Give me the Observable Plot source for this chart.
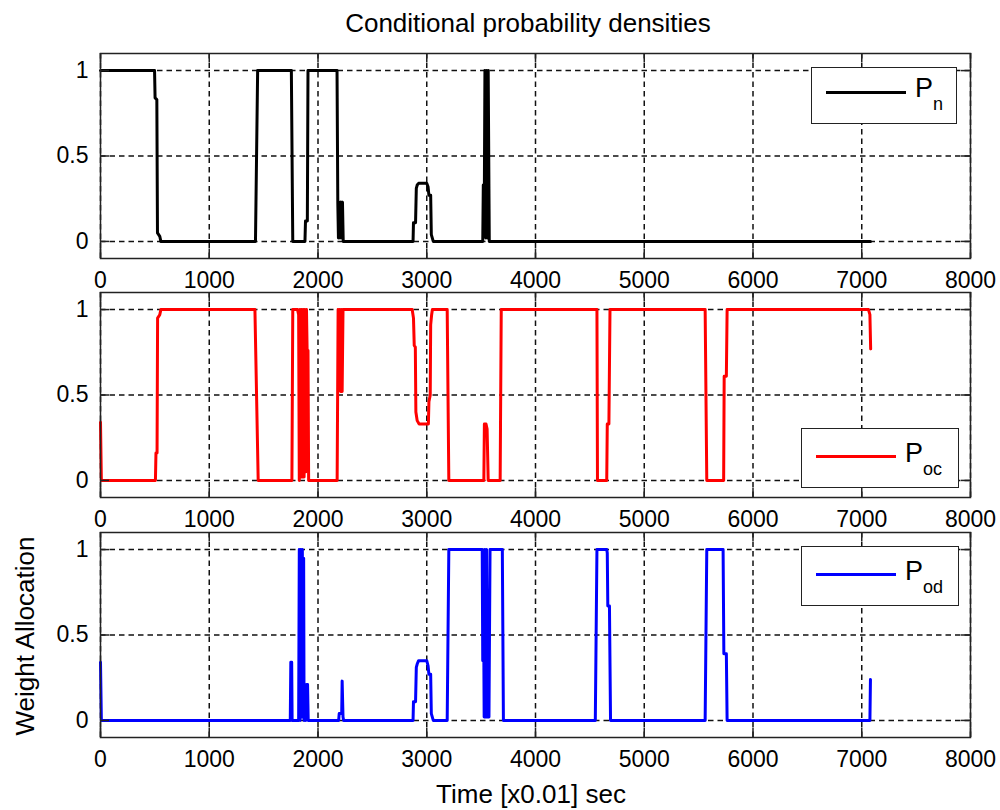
<!DOCTYPE html>
<html>
<head>
<meta charset="utf-8">
<script src="https://cdn.jsdelivr.net/npm/d3@7"></script>
<script src="https://cdn.jsdelivr.net/npm/@observablehq/plot@0.6"></script>
<style>
  html, body { margin: 0; padding: 0; background: #fff; }
  #root { position: relative; width: 1000px; height: 810px; background: #fff; font-family: "Liberation Sans", Arial, sans-serif; color: #000; overflow: hidden; }
  .abs { position: absolute; }
  .txt { white-space: nowrap; line-height: 1; }
  .legend { position: absolute; border: 1.5px solid #222; background: #fff; box-sizing: border-box; }
  .legend .ln { position: absolute; height: 3px; }
  .legend .p { position: absolute; font-size: 27px; line-height: 27px; }
  .legend .sub { position: absolute; font-size: 18px; line-height: 18px; }
</style>
</head>
<body>
<div id="root"></div>
<script>
// ---- data ----
const xTicks = [0, 1000, 2000, 3000, 4000, 5000, 6000, 7000, 8000];
const yTicks = [0, 0.5, 1];
const seriesNames = ["P", "P", "P"];
const seriesSubs = ["n", "oc", "od"];
const seriesColors = ["#000000", "#ff0000", "#0000ff"];

const Pn = [
  [0,1],[497,1],[502,0.84],[518,0.83],[524,0.05],[545,0.03],[555,0],
  [1425,0],[1445,1],[1755,1],[1768,0],[1880,0],[1885,0.12],[1902,0.12],[1908,1],
  [2175,1],[2182,0.23],[2188,0.02],[2195,0.23],[2202,0.02],[2210,0.23],[2218,0.02],[2225,0.23],[2232,0],
  [2874,0],[2878,0.11],[2897,0.11],[2904,0.31],[2912,0.33],[2925,0.34],[3000,0.34],[3012,0.32],[3020,0.27],[3036,0.27],[3042,0.04],[3060,0],
  [3515,0],[3520,0.33],[3530,0.33],[3535,1],[3543,0.02],[3550,1],[3558,0.02],[3565,1],[3575,0],
  [7080,0]
];

const Poc = [
  [0,0.34],[8,0],[505,0],[510,0.16],[520,0.16],[525,0.95],[545,0.97],[555,1],
  [1420,1],[1450,0],[1760,0],[1768,1],[1812,1],[1822,0.97],[1828,0],[1835,1],[1842,0.02],[1850,1],[1857,0.02],[1864,1],[1872,0.02],[1880,1],[1887,0.05],[1894,1],[1900,0.76],[1908,0.76],[1914,0],
  [2176,0],[2185,1],[2192,0.55],[2200,1],[2208,0.52],[2215,1],[2222,0.52],[2230,1],
  [2866,1],[2878,0.95],[2885,0.79],[2895,0.78],[2900,0.4],[2912,0.35],[2930,0.33],[3015,0.33],[3020,0.46],[3032,0.5],[3036,0.91],[3045,0.97],[3052,1],
  [3188,1],[3203,0],[3525,0],[3530,0.33],[3545,0.33],[3555,0.3],[3565,0],[3675,0],[3685,1],
  [4565,1],[4570,0],[4655,0],[4660,0.33],[4675,0.33],[4685,1],
  [5560,1],[5575,0],[5730,0],[5735,0.61],[5755,0.61],[5762,1],
  [7062,1],[7075,0.97],[7082,0.77]
];

const Pod = [
  [0,0.34],[8,0],[1745,0],[1750,0.34],[1758,0.34],[1762,0],
  [1822,0],[1828,1],[1835,0],[1842,1],[1849,0.02],[1856,1],[1863,0.02],[1868,0.95],[1872,0],[1880,0.12],[1886,0],[1896,0.21],[1904,0.21],[1910,0],
  [2190,0],[2195,0.04],[2218,0.04],[2222,0.23],[2230,0.02],[2236,0],
  [2874,0],[2878,0.11],[2897,0.11],[2904,0.31],[2912,0.33],[2925,0.35],[3000,0.35],[3012,0.32],[3020,0.27],[3036,0.27],[3042,0.04],[3060,0],
  [3188,0],[3203,1],[3510,1],[3515,0.35],[3520,0.98],[3528,0.02],[3535,1],[3542,0.02],[3550,1],[3558,0.02],[3565,0.6],[3572,0.02],[3582,1],[3600,1],[3695,1],[3705,0],
  [4550,0],[4565,1],[4655,1],[4660,0.98],[4665,0.67],[4680,0.67],[4690,0],
  [5560,0],[5575,1],[5725,1],[5732,0.39],[5755,0.39],[5762,0],
  [7075,0],[7080,0.24]
];

const titleText = "Conditional probability densities";
const xLabelText = "Time [x0.01] sec";
const yLabelText = "Weight Allocation";

// ---- layout ----
const root = document.getElementById("root");
const panelTops = [43, 282, 522];
const legendBoxes = [
  {left: 811, top: 67, w: 146, h: 57, lineY: 26, pBase: 31, subBase: 43},
  {left: 801, top: 428, w: 158, h: 60, lineY: 29, pBase: 35, subBase: 47},
  {left: 801, top: 546, w: 158, h: 60, lineY: 29, pBase: 35, subBase: 47}
];
const xDomain = [0, 8000], yDomain = [-0.1, 1.1];
const mL = 100, mR = 30, mT = 10, mB = 40, areaH = 205;
const xTickLen = 9 * (xDomain[1] - xDomain[0]) / (1000 - mL - mR);
const yTickLen = 9 * (yDomain[1] - yDomain[0]) / areaH;

function panel(data, color) {
  const gridStyle = {stroke: "#111", strokeOpacity: 1, strokeWidth: 1.5, strokeDasharray: "5.5,4"};
  const tickStyle = {stroke: "#222", strokeWidth: 1.5};
  return Plot.plot({
    width: 1000, height: mT + areaH + mB,
    marginLeft: mL, marginRight: mR, marginTop: mT, marginBottom: mB,
    style: {background: "transparent", overflow: "visible", fontFamily: "Liberation Sans, Arial, sans-serif", color: "#000"},
    x: {domain: xDomain, label: null},
    y: {domain: yDomain, label: null},
    marks: [
      Plot.gridX(xTicks, gridStyle),
      Plot.gridY(yTicks, gridStyle),
      Plot.line(data, {x: d => d[0], y: d => d[1], stroke: color, strokeWidth: 3, strokeLinejoin: "round"}),
      Plot.ruleX(xTicks, {x: d => d, y1: yDomain[0], y2: yDomain[0] + yTickLen, ...tickStyle}),
      Plot.ruleX(xTicks, {x: d => d, y1: yDomain[1], y2: yDomain[1] - yTickLen, ...tickStyle}),
      Plot.ruleY(yTicks, {y: d => d, x1: xDomain[0], x2: xDomain[0] + xTickLen, ...tickStyle}),
      Plot.ruleY(yTicks, {y: d => d, x1: xDomain[1], x2: xDomain[1] - xTickLen, ...tickStyle}),
      Plot.frame({stroke: "#222", strokeWidth: 1.5}),
      Plot.axisX(xTicks, {tickSize: 0, tickPadding: 13, tickFormat: d => String(d), fontSize: 23, label: null}),
      Plot.axisY(yTicks, {tickSize: 0, tickPadding: 12, tickFormat: d => String(d), fontSize: 23, label: null})
    ]
  });
}

[Pn, Poc, Pod].forEach((data, i) => {
  const wrap = document.createElement("div");
  wrap.className = "abs";
  wrap.style.left = "0px";
  wrap.style.top = panelTops[i] + "px";
  wrap.appendChild(panel(data, seriesColors[i]));
  root.appendChild(wrap);
});

// legends
legendBoxes.forEach((b, i) => {
  const box = document.createElement("div");
  box.className = "legend";
  box.style.left = b.left + "px"; box.style.top = b.top + "px";
  box.style.width = b.w + "px"; box.style.height = b.h + "px";
  const ln = document.createElement("div");
  ln.className = "ln";
  ln.style.left = "14px"; ln.style.width = "80px";
  ln.style.top = (b.lineY - 1.5 - 1.5) + "px";
  ln.style.background = seriesColors[i];
  box.appendChild(ln);
  const p = document.createElement("div");
  p.className = "p txt";
  p.textContent = seriesNames[i];
  p.style.left = "103px";
  p.style.top = (b.pBase - 23 - 1.5) + "px";
  box.appendChild(p);
  const s = document.createElement("div");
  s.className = "sub txt";
  s.textContent = seriesSubs[i];
  s.style.left = "121px";
  s.style.top = (b.subBase - 15 - 1.5) + "px";
  box.appendChild(s);
  root.appendChild(box);
});

// title
const t = document.createElement("div");
t.className = "abs txt";
t.textContent = titleText;
t.style.fontSize = "26px"; t.style.lineHeight = "26px";
t.style.left = "528px"; t.style.top = "10px"; t.style.transform = "translateX(-50%)";
root.appendChild(t);

// x label
const xl = document.createElement("div");
xl.className = "abs txt";
xl.textContent = xLabelText;
xl.style.fontSize = "26px"; xl.style.lineHeight = "26px";
xl.style.left = "531px"; xl.style.top = "781px"; xl.style.transform = "translateX(-50%)";
root.appendChild(xl);

// y label
const yl = document.createElement("div");
yl.className = "abs txt";
yl.textContent = yLabelText;
yl.style.fontSize = "26px"; yl.style.lineHeight = "26px";
yl.style.left = "25px"; yl.style.top = "636px";
yl.style.transform = "translate(-50%,-50%) rotate(-90deg)";
root.appendChild(yl);
</script>
</body>
</html>
